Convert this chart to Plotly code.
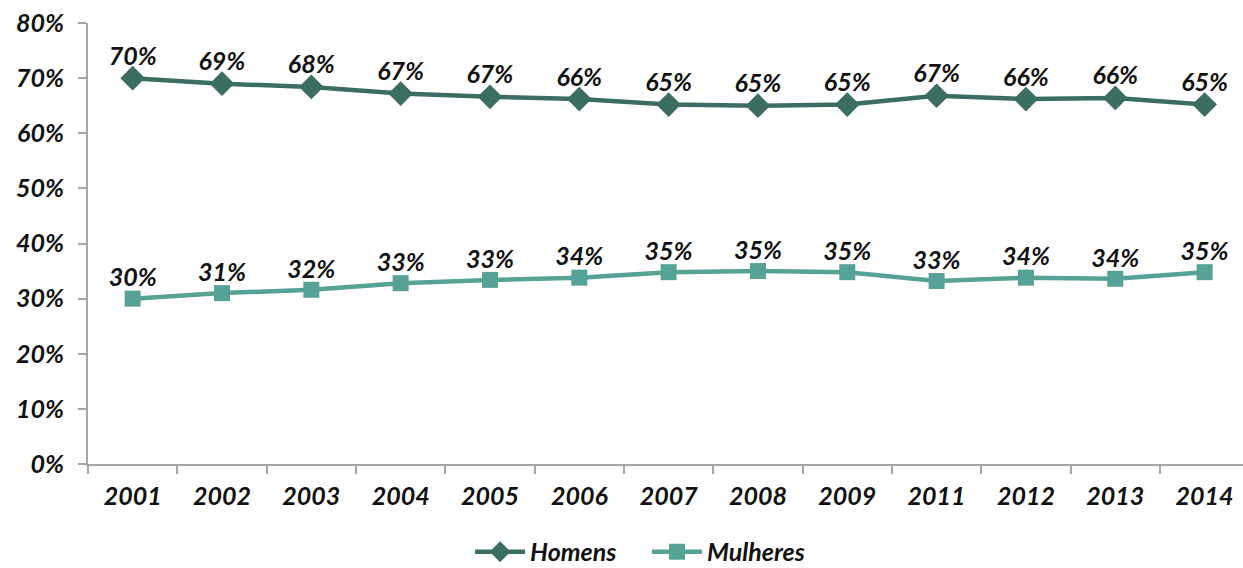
import plotly.graph_objects as go

anos = ["2001", "2002", "2003", "2004", "2005", "2006", "2007",
        "2008", "2009", "2011", "2012", "2013", "2014"]
homens = [70.0, 69.0, 68.4, 67.2, 66.6, 66.2, 65.2, 65.0, 65.2, 66.8, 66.2, 66.4, 65.2]
mulheres = [30.0, 31.0, 31.6, 32.8, 33.4, 33.8, 34.8, 35.0, 34.8, 33.2, 33.8, 33.6, 34.8]
y_ticks = [0, 10, 20, 30, 40, 50, 60, 70, 80]

FONT = "Lato"
SIZE = 25
COR_H = "#3b6d62"
COR_M = "#57a297"
CINZA = "#a6a6a6"
label_font = dict(family=FONT, size=SIZE, color="#111111")

fig = go.Figure()

# series lines with markers
fig.add_trace(go.Scatter(
    x=anos, y=homens, name="<b><i>Homens</i></b>&nbsp;&nbsp;&nbsp;&nbsp;",
    mode="lines+markers",
    line=dict(color=COR_H, width=4.5),
    marker=dict(symbol="diamond", size=19, color=COR_H),
))
fig.add_trace(go.Scatter(
    x=anos, y=mulheres, name="<b><i>Mulheres</i></b>",
    mode="lines+markers",
    line=dict(color=COR_M, width=4.5),
    marker=dict(symbol="square", size=16, color=COR_M),
))

# value labels above each point (hidden marker size sets the gap)
for vals, gap in ((homens, 10), (mulheres, 8)):
    fig.add_trace(go.Scatter(
        x=anos, y=vals, mode="markers+text", showlegend=False, hoverinfo="skip",
        marker=dict(size=gap, opacity=0),
        texttemplate="<b><i>%{y:.0f}%</i></b>", textposition="top center",
        textfont=label_font, cliponaxis=False,
    ))

fig.update_layout(
    width=1243, height=568,
    margin=dict(l=88, r=0, t=23, b=104, autoexpand=False),
    paper_bgcolor="white", plot_bgcolor="white",
    font=dict(family=FONT, size=SIZE, color="#111111"),
    showlegend=True,
    legend=dict(orientation="h", x=0.478, xanchor="center",
                y=-0.1995, yanchor="middle",
                font=dict(family=FONT, size=SIZE, color="#111111"),
                itemwidth=50, tracegroupgap=0),
    xaxis=dict(
        type="category", range=[-0.5, 12.43],
        showline=True, linecolor=CINZA, linewidth=2,
        ticks="outside", tickson="boundaries", ticklen=8, tickcolor=CINZA, tickwidth=2,
        showgrid=False, zeroline=False,
        tickvals=anos, ticktext=[f"<b><i>{a}</i></b>" for a in anos],
        ticklabelstandoff=9,
    ),
    yaxis=dict(
        range=[0, 80], tickvals=y_ticks,
        ticktext=[f"<b><i>{v}%</i></b>" for v in y_ticks],
        showline=True, linecolor=CINZA, linewidth=2,
        ticks="outside", ticklen=8, tickcolor=CINZA, tickwidth=2,
        showgrid=False, zeroline=False,
        ticklabelstandoff=9,
    ),
)

fig.write_html("out.html")
